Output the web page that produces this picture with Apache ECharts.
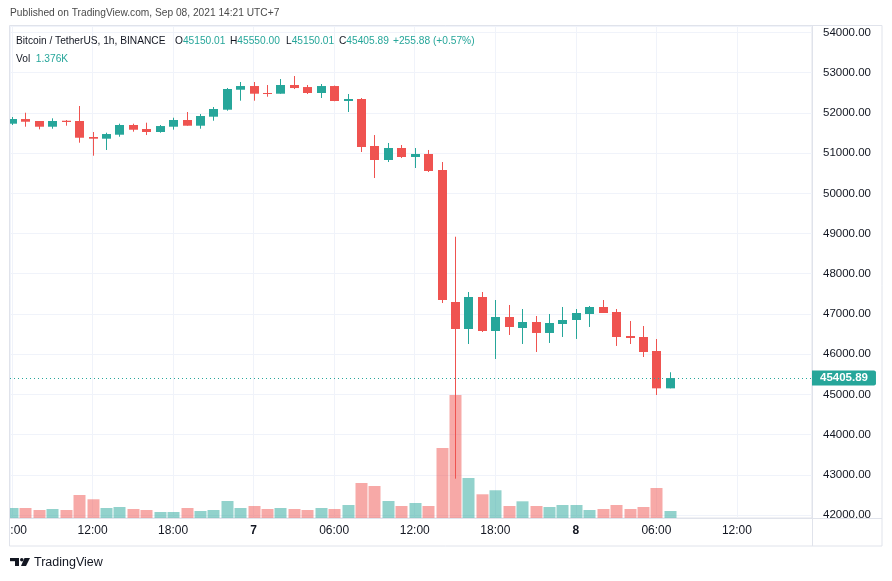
<!DOCTYPE html>
<html><head><meta charset="utf-8">
<script src="https://cdn.jsdelivr.net/npm/echarts@6/dist/echarts.min.js"></script>
<style>html,body{margin:0;padding:0;background:#fff}#c{width:892px;height:581px}</style>
</head><body><div id="c"></div>
<script>
const times = [
'2021-09-06T06:00Z','2021-09-06T07:00Z','2021-09-06T08:00Z','2021-09-06T09:00Z','2021-09-06T10:00Z','2021-09-06T11:00Z',
'2021-09-06T12:00Z','2021-09-06T13:00Z','2021-09-06T14:00Z','2021-09-06T15:00Z','2021-09-06T16:00Z','2021-09-06T17:00Z',
'2021-09-06T18:00Z','2021-09-06T19:00Z','2021-09-06T20:00Z','2021-09-06T21:00Z','2021-09-06T22:00Z','2021-09-06T23:00Z',
'2021-09-07T00:00Z','2021-09-07T01:00Z','2021-09-07T02:00Z','2021-09-07T03:00Z','2021-09-07T04:00Z','2021-09-07T05:00Z',
'2021-09-07T06:00Z','2021-09-07T07:00Z','2021-09-07T08:00Z','2021-09-07T09:00Z','2021-09-07T10:00Z','2021-09-07T11:00Z',
'2021-09-07T12:00Z','2021-09-07T13:00Z','2021-09-07T14:00Z','2021-09-07T15:00Z','2021-09-07T16:00Z','2021-09-07T17:00Z',
'2021-09-07T18:00Z','2021-09-07T19:00Z','2021-09-07T20:00Z','2021-09-07T21:00Z','2021-09-07T22:00Z','2021-09-07T23:00Z',
'2021-09-08T00:00Z','2021-09-08T01:00Z','2021-09-08T02:00Z','2021-09-08T03:00Z','2021-09-08T04:00Z','2021-09-08T05:00Z',
'2021-09-08T06:00Z','2021-09-08T07:00Z'
];
const open = [51732,51848,51799,51657,51806,51799,51401,51359,51458,51699,51600,51525,
51657,51824,51682,51906,52080,52577,52669,52495,52478,52694,52644,52495,
52669,52296,52346,51177,50829,51127,50903,50978,50580,47297,46626,47422,
46576,46924,46651,46800,46527,46750,46850,46999,47173,47049,46452,46427,
46079,45150.01];
const close = [51849,51781,51657,51799,51774,51383,51359,51475,51699,51582,51525,51674,
51824,51682,51923,52097,52595,52669,52478,52470,52694,52619,52495,52669,
52296,52346,51152,50829,51127,50903,50978,50555,47347,46626,47422,46576,
46924,46676,46800,46527,46775,46850,47024,47173,47024,46427,46402,46054,
45150,45405.89];
const high = [51899,52005,51799,51866,51824,52172,51525,51508,51732,51732,51757,51699,
51881,52023,51973,52147,52620,52769,52769,52694,52843,52918,52694,52719,
52680,52470,52371,51450,51252,51202,51127,51078,50779,48921,47546,47546,
47347,47223,47123,46949,46999,47173,47123,47198,47347,47123,46825,46700,
46377,45550];
const low = [51700,51657,51592,51607,51682,51259,50936,51078,51408,51533,51450,51508,
51583,51682,51607,51806,52055,52304,52304,52403,52478,52594,52470,52371,
52290,52023,51028,50381,50779,50878,50630,50530,47272,42903,46253,46551,
45880,46477,46253,46054,46278,46427,46378,46676,47024,46204,46253,45929,
44984,45150.01];
const volume = [1970,1970,1570,1770,1570,4520,3680,1970,2160,1770,1570,1180,
1180,1970,1380,1570,3340,1970,2360,1770,1970,1770,1570,1970,
1770,2560,6880,6290,3340,2360,2950,2360,13760,24180,7860,4660,
5450,2360,3280,2360,2160,2560,2560,1570,1770,2560,1770,2160,
5900,1376];
const lastPrice = 45405.89;
const headerTitle = 'Published on TradingView.com, Sep 08, 2021 14:21 UTC+7';
const symbolText = 'Bitcoin / TetherUS, 1h, BINANCE';
const ohlcLabels = ['O','H','L','C'];
const ohlcValues = ['45150.01','45550.00','45150.01','45405.89'];
const changeText = '+255.88 (+0.57%)';
const volText = '1.376K';

const UP = '#26a69a', DOWN = '#ef5350';
const UPV = 'rgba(38,166,154,0.5)', DOWNV = 'rgba(239,83,80,0.5)';
const FONT = '"Liberation Sans", Arial, sans-serif';
const HOUR = 3600000;
const t0 = Date.parse(times[0]);
const PXH = 13.425;
const xMin = Math.round(t0 - (2 / PXH) * HOUR);
const xMax = Math.round(t0 + (800 / PXH) * HOUR);

const candleData = times.map((t, i) => [Date.parse(t), open[i], close[i], low[i], high[i]]);
const volData = times.map((t, i) => [Date.parse(t), volume[i], close[i] >= open[i] ? 1 : 0]);

function renderCandle(params, api) {
  const t = api.value(0);
  const o = api.value(1), c = api.value(2);
  const po = api.coord([t, o]), pc = api.coord([t, c]);
  const pl = api.coord([t, api.value(3)]), ph = api.coord([t, api.value(4)]);
  const color = c >= o ? UP : DOWN;
  const cx = Math.round(po[0]);
  const top = Math.min(po[1], pc[1]), bot = Math.max(po[1], pc[1]);
  const w = 9;
  return { type: 'group', children: [
    { type: 'line', shape: { x1: cx + 0.5, y1: ph[1], x2: cx + 0.5, y2: pl[1] }, style: { stroke: color, lineWidth: 1 } },
    { type: 'rect', shape: { x: cx + 0.5 - w / 2, y: top, width: w, height: Math.max(bot - top, 1) }, style: { fill: color } }
  ]};
}
function renderVol(params, api) {
  const t = api.value(0);
  const p0 = api.coord([t, 0]), p1 = api.coord([t, api.value(1)]);
  const cx = Math.round(p0[0]);
  const w = 12;
  return { type: 'rect', shape: { x: cx + 0.5 - w / 2, y: p1[1], width: w, height: p0[1] - p1[1] },
    style: { fill: api.value(2) ? UPV : DOWNV } };
}

const ohlcX = [175, 230, 286, 339];
const F = '10.2px ' + FONT;
const headerEls = [
  { type: 'text', left: 10, top: 8, z: 100, style: { text: headerTitle, fill: '#4a4a4a', font: F } },
  { type: 'text', left: 16, top: 36, z: 100, style: { text: symbolText, fill: '#131722', font: F } }
];
ohlcLabels.forEach((l, i) => {
  headerEls.push({ type: 'text', left: ohlcX[i], top: 36, z: 100, style: {
    text: l + '{v|' + ohlcValues[i] + '}', fill: '#131722', font: F,
    rich: { v: { fill: UP, font: F } } } });
});
headerEls.push({ type: 'text', left: 393, top: 36, z: 100, style: { text: changeText, fill: UP, font: F } });
headerEls.push({ type: 'text', left: 16, top: 54, z: 100, style: {
  text: 'Vol  {v|' + volText + '}', fill: '#131722', font: F,
  rich: { v: { fill: UP, font: F } } } });

const frameEls = [
  { type: 'rect', z: 90, shape: { x: 0, y: 519, width: 9, height: 27 }, style: { fill: '#fff' } },
  { type: 'rect', z: 90, shape: { x: 813, y: 518.5, width: 68, height: 27 }, style: { fill: '#fff' } },
  { type: 'rect', z: 95, shape: { x: 9.5, y: 25.5, width: 872.5, height: 520.5 }, style: { fill: 'none', stroke: '#e0e3eb', lineWidth: 1 } },
  { type: 'line', z: 95, shape: { x1: 812.5, y1: 518, x2: 812.5, y2: 546 }, style: { stroke: '#e0e3eb', lineWidth: 1 } },
  { type: 'line', z: 95, shape: { x1: 812, y1: 518.5, x2: 882, y2: 518.5 }, style: { stroke: '#e0e3eb', lineWidth: 1 } },
  { type: 'rect', z: 100, shape: { x: 10, y: 558, width: 9, height: 3.2 }, style: { fill: '#131722' } },
  { type: 'rect', z: 100, shape: { x: 15, y: 558, width: 4, height: 8 }, style: { fill: '#131722' } },
  { type: 'circle', z: 100, shape: { cx: 21.8, cy: 559.8, r: 1.8 }, style: { fill: '#131722' } },
  { type: 'polygon', z: 100, shape: { points: [[24.5, 558], [30, 558], [26, 566], [21, 566]] }, style: { fill: '#131722' } },
  { type: 'text', z: 100, left: 34, top: 556, style: { text: 'TradingView', fill: '#131722', font: '12.5px ' + FONT } }
];

const chart = echarts.init(document.getElementById('c'));
chart.setOption({
  animation: false,
  useUTC: true,
  backgroundColor: '#fff',
  textStyle: { fontFamily: FONT },
  grid: { left: 10, top: 26, width: 802, height: 492, show: true, borderColor: '#e0e3eb', borderWidth: 1,
    containLabel: false, outerBoundsMode: 'none' },
  xAxis: {
    type: 'time', min: xMin, max: xMax,
    splitNumber: 9, minInterval: 6.2 * HOUR, maxInterval: 11 * HOUR,
    axisLine: { show: true, lineStyle: { color: '#e0e3eb' } },
    axisTick: { show: false },
    axisLabel: { color: '#131722', fontSize: 12, margin: 7, showMinLabel: false, showMaxLabel: false, fontFamily: FONT },
    splitLine: { show: true, lineStyle: { color: '#f0f3fa', width: 1 } }
  },
  yAxis: [{
    type: 'value', position: 'right', min: 41925, max: 54162, splitNumber: 12,
    axisLine: { show: true, lineStyle: { color: '#e0e3eb' } },
    axisTick: { show: false },
    axisLabel: { color: '#131722', fontSize: 11.5, margin: 11, showMinLabel: false, showMaxLabel: false,
      fontFamily: FONT, formatter: v => v.toFixed(2) },
    splitLine: { show: true, lineStyle: { color: '#f0f3fa', width: 1 } }
  }, {
    type: 'value', min: 0, max: 96700, show: false, splitLine: { show: false }
  }],
  series: [{
    type: 'custom', name: 'Vol', xAxisIndex: 0, yAxisIndex: 1, data: volData,
    encode: { x: 0, y: 1 }, renderItem: renderVol, clip: true, z: 1, silent: true
  }, {
    type: 'custom', name: 'BTCUSDT', xAxisIndex: 0, yAxisIndex: 0, data: candleData,
    encode: { x: 0, y: [1, 2, 3, 4] }, renderItem: renderCandle, clip: true, z: 3, silent: true,
    markLine: {
      silent: true, symbol: 'none', animation: false,
      data: [{ yAxis: lastPrice }],
      lineStyle: { color: UP, type: [1, 3], width: 1 },
      label: { show: true, position: 'end', distance: 0, formatter: lastPrice.toFixed(2),
        color: '#fff', fontWeight: 'bold', fontSize: 11.5, fontFamily: FONT,
        backgroundColor: UP, padding: [2, 8, 1, 8], borderRadius: [0, 2, 2, 0] }
    }
  }],
  graphic: headerEls.concat(frameEls)
});
</script></body></html>
